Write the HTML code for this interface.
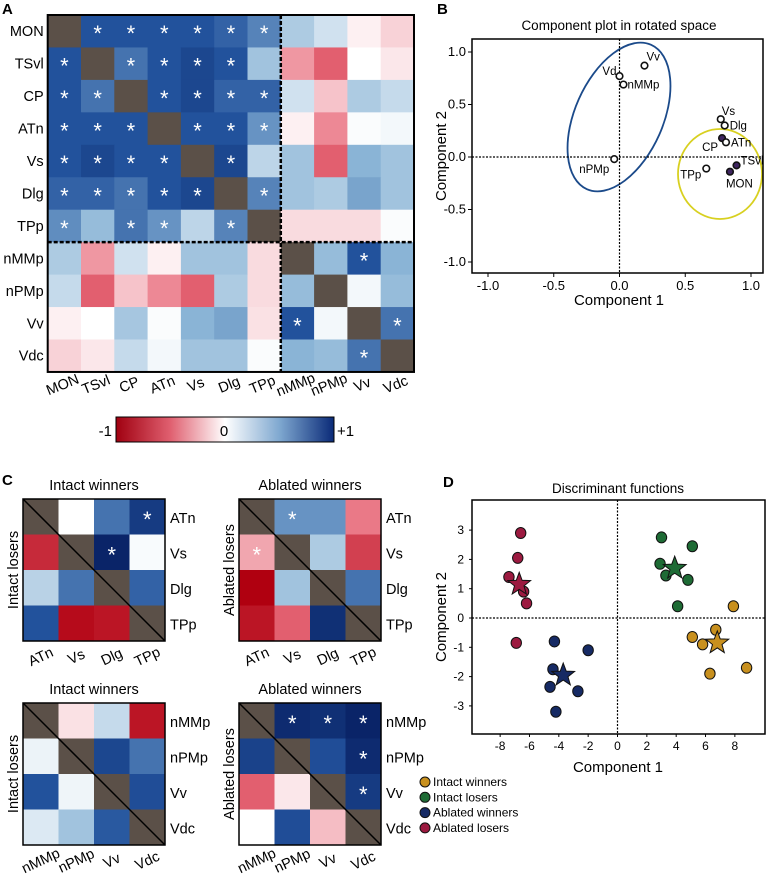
<!DOCTYPE html>
<html><head><meta charset="utf-8"><style>
body{margin:0;background:#fff;}
svg{display:block;font-family:"Liberation Sans",Arial,sans-serif;}
</style></head><body>
<svg id="fig" width="768" height="878" viewBox="0 0 768 878" xmlns="http://www.w3.org/2000/svg">
<defs>
<linearGradient id="cbar" x1="0" x2="1" y1="0" y2="0">
<stop offset="0" stop-color="#a00010"/><stop offset="0.25" stop-color="#e06070"/><stop offset="0.5" stop-color="#ffffff"/><stop offset="0.75" stop-color="#7fa8d0"/><stop offset="1" stop-color="#0a2a78"/>
</linearGradient>
</defs>
<text x="2" y="14" font-size="15" font-weight="bold">A</text>
<text x="437" y="14" font-size="15" font-weight="bold">B</text>
<text x="2" y="485" font-size="15" font-weight="bold">C</text>
<text x="443" y="487" font-size="15" font-weight="bold">D</text>
<g id="gA"></g>
<g id="cb">
<rect x="116" y="417" width="218" height="25" fill="url(#cbar)" stroke="#000" stroke-width="1"/>
<text x="112" y="436" font-size="15" text-anchor="end">-1</text>
<text x="224" y="436" font-size="15" text-anchor="middle">0</text>
<text x="337" y="436" font-size="15">+1</text>
</g>
<g id="gB"></g>
<g id="gC"></g>
<g id="gD"></g>
</svg>
<script>
const NS="http://www.w3.org/2000/svg";
// ---------- Panel A data ----------
const aLabels=["MON","TSvl","CP","ATn","Vs","Dlg","TPp","nMMp","nPMp","Vv","Vdc"];
const aValues=[
[null,.8,.8,.8,.8,.75,.65,.35,.2,-.05,-.15],
[.8,null,.7,.8,.85,.8,.4,-.35,-.55,0,-.08],
[.8,.7,null,.8,.85,.75,.75,.2,-.2,.35,.25],
[.8,.8,.8,null,.8,.8,.6,-.05,-.4,.02,.05],
[.8,.85,.8,.8,null,.85,.28,.4,-.55,.5,.4],
[.75,.75,.7,.8,.85,null,.65,.4,.35,.55,.4],
[.62,.45,.7,.6,.28,.65,null,-.12,-.12,-.12,.02],
[.35,-.35,.2,-.05,.4,.4,-.12,null,.45,.8,.5],
[.25,-.55,-.2,-.4,-.55,.35,-.12,.45,null,.05,.45],
[-.05,0,.38,.02,.5,.55,-.1,.8,.05,null,.7],
[-.15,-.08,.25,.05,.4,.4,.02,.5,.45,.7,null]];
const aStars=[[1,2,3,4,5,6],[0,2,3,4,5],[0,1,3,4,5,6],[0,1,2,4,5,6],[0,1,2,3,5],[0,1,2,3,4,6],[0,2,3,5],[9],[],[7,10],[9]];
// ---------- Panel B data ----------
const bNames=["Vv","Vdc","nMMp","nPMp","Vs","Dlg","CP","ATn","TSvl","MON","TPp"];
const bC1=[0.19,0.0,0.03,-0.04,0.77,0.80,0.78,0.81,0.89,0.84,0.66];
const bC2=[0.87,0.77,0.69,-0.02,0.36,0.30,0.18,0.14,-0.08,-0.14,-0.11];
const bFilled=[0,0,0,0,0,0,1,0,1,1,0];
const bTicks=[-1,-0.5,0,0.5,1];
const bTickLabels=["-1.0","-0.5","0.0","0.5","1.0"];
// ---------- Panel C data ----------
const cTitles=["Intact winners","Ablated winners","Intact winners","Ablated winners"];
const cYTitles=["Intact losers","Ablated losers","Intact losers","Ablated losers"];
const cLabelsTop=["ATn","Vs","Dlg","TPp"];
const cLabelsBot=["nMMp","nPMp","Vv","Vdc"];
const cVal1=[[null,0,.7,.9],[-.8,null,1,.03],[.3,.7,null,.75],[.8,-.95,-.9,null]];
const cVal2=[[null,.6,.6,-.45],[-.3,null,.35,-.7],[-1,.4,null,.7],[-.9,-.55,.95,null]];
const cVal3=[[null,-.1,.25,-.9],[.08,null,.85,.7],[.8,.07,null,.82],[.15,.4,.78,null]];
const cVal4=[[null,.97,.95,1],[.87,null,.82,.97],[-.55,-.08,null,.9],[0,.82,-.22,null]];
const cStar1=[[0,3],[1,2]], cStar2=[[0,1],[1,0]], cStar3=[], cStar4=[[0,1],[0,2],[0,3],[1,3],[2,3]];
// ---------- Panel D data ----------
const dGroups=["Intact winners","Intact losers","Ablated winners","Ablated losers"];
const dGoldX=[7.9,5.1,6.7,5.8,6.3,8.8], dGoldY=[0.4,-0.65,-0.4,-0.9,-1.9,-1.7];
const dGreenX=[3.0,5.1,2.9,3.3,4.8,4.1], dGreenY=[2.75,2.45,1.85,1.45,1.3,0.4];
const dNavyX=[-4.3,-2.0,-4.4,-4.6,-2.7,-4.2], dNavyY=[-0.8,-1.1,-1.75,-2.35,-2.5,-3.2];
const dRedX=[-6.6,-6.8,-7.4,-6.4,-6.2,-6.9], dRedY=[2.9,2.05,1.4,0.9,0.5,-0.85];
const dStarX=[6.8,3.9,-3.7,-6.7], dStarY=[-0.85,1.7,-1.95,1.15];
const dXTicks=[-8,-6,-4,-2,0,2,4,6,8], dYTicks=[-3,-2,-1,0,1,2,3];

function mk(tag,attrs,parent,txt){const e=document.createElementNS(NS,tag);for(const k in attrs)e.setAttribute(k,attrs[k]);if(txt!==undefined)e.textContent=txt;parent.appendChild(e);return e;}
function hex(c){return [parseInt(c.substr(1,2),16),parseInt(c.substr(3,2),16),parseInt(c.substr(5,2),16)];}
const stops=[[-1,"#b00010"],[-0.5,"#e86a7a"],[0,"#ffffff"],[0.5,"#8ab4d6"],[0.8,"#22529c"],[1,"#0a2468"]];
function color(v){if(v===null)return "#5b5048";for(let i=0;i<stops.length-1;i++){const[a,ca]=stops[i],[b,cb]=stops[i+1];if(v>=a&&v<=b){const t=(v-a)/(b-a);const A=hex(ca),B=hex(cb);return "rgb("+A.map((x,j)=>Math.round(x+(B[j]-x)*t)).join(",")+")";}}return v<0?stops[0][1]:stops[stops.length-1][1];}

// ---------- Panel A ----------
(function(){
const g=document.getElementById("gA");
const x0=47.7,y0=15,cw=33.3,ch=32.45,n=aLabels.length;
for(let r=0;r<n;r++)for(let c=0;c<n;c++){
 const el=mk("rect",{x:x0+c*cw,y:y0+r*ch,width:cw+0.5,height:ch+0.5,fill:color(aValues[r][c])},g);
 
 
 if(aStars[r].includes(c)){const s=mk("text",{x:x0+c*cw+cw/2,y:y0+r*ch+ch/2+10,"font-size":22,fill:"#fff","text-anchor":"middle"},g,"*");
 
 }
}
const br=mk("rect",{x:x0,y:y0,width:cw*n,height:ch*n,fill:"none",stroke:"#000","stroke-width":2},g);


const dv=mk("line",{x1:x0+7*cw,y1:y0,x2:x0+7*cw,y2:y0+n*ch,stroke:"#000","stroke-width":2.5,"stroke-dasharray":"4,2"},g);


const dh=mk("line",{x1:x0,y1:y0+7*ch,x2:x0+n*cw,y2:y0+7*ch,stroke:"#000","stroke-width":2.5,"stroke-dasharray":"4,2"},g);


for(let i=0;i<n;i++){
 const t=mk("text",{x:x0-4,y:y0+i*ch+ch/2+5,"font-size":14.5,"text-anchor":"end"},g,aLabels[i]);
 
 
 const cx=x0+i*cw+cw/2,cy=389;
 const u=mk("text",{x:cx,y:cy,"font-size":14.5,"text-anchor":"middle",transform:`rotate(-22 ${cx} ${cy})`},g,aLabels[i]);
 
 
}
})();

// ---------- Panel B ----------
(function(){
const g=document.getElementById("gB");
const L=472,R=763,T=39,B=273;
const sx=v=>619.5+v*131.5, sy=v=>157-v*105;
mk("text",{x:619,y:30,"font-size":13.5,"text-anchor":"middle"},g,"Component plot in rotated space");
const e1=mk("ellipse",{cx:619,cy:117,rx:44,ry:79,transform:"rotate(24 619 117)",fill:"none",stroke:"#1b4a8a","stroke-width":1.8},g);


const e2=mk("ellipse",{cx:720,cy:174,rx:42,ry:45,fill:"none",stroke:"#d8d020","stroke-width":1.8},g);


mk("line",{x1:sx(0),y1:T,x2:sx(0),y2:B,stroke:"#000","stroke-width":1.2,"stroke-dasharray":"2,1.5"},g);
mk("line",{x1:L,y1:sy(0),x2:R,y2:sy(0),stroke:"#000","stroke-width":1.2,"stroke-dasharray":"2,1.5"},g);
mk("rect",{x:L,y:T,width:R-L,height:B-T,fill:"none",stroke:"#000","stroke-width":1.5},g);
bTicks.forEach((v,i)=>{
 mk("line",{x1:sx(v),y1:B,x2:sx(v),y2:B+4,stroke:"#000"},g);
 const t=mk("text",{x:sx(v),y:B+17,"font-size":13,"text-anchor":"middle"},g,bTickLabels[i]);
 
 
 mk("line",{x1:L-4,y1:sy(v),x2:L,y2:sy(v),stroke:"#000"},g);
 const u=mk("text",{x:L-6,y:sy(v)+4,"font-size":13,"text-anchor":"end"},g,bTickLabels[i]);
 
 
});
mk("text",{x:619,y:305,"font-size":15,"text-anchor":"middle"},g,"Component 1");
mk("text",{x:446,y:156,"font-size":15,"text-anchor":"middle",transform:"rotate(-90 446 156)"},g,"Component 2");
const off={Vv:[2,-5,"start"],Vdc:[-3,-1,"end"],nMMp:[4,4,"start"],nPMp:[-5,14,"end"],Vs:[1,-4,"start"],Dlg:[5,4,"start"],CP:[-4,13,"end"],ATn:[5,4,"start"],TSvl:[4,-1,"start"],MON:[-4,16,"start"],TPp:[-5,10,"end"]};
bNames.forEach((nm,i)=>{
 const x=sx(bC1[i]),y=sy(bC2[i]);
 const c=mk("circle",{cx:x,cy:y,r:3.3,fill:bFilled[i]?"#3e2560":"#fff",stroke:"#111","stroke-width":1.6},g);
 
 
 const o=off[nm];
 const lbl=nm==="Vdc"?"Vd":nm;
 const t=mk("text",{x:x+o[0],y:y+o[1],"font-size":11.5,"text-anchor":o[2]},g,lbl);
 
 
});
})();

// ---------- Panel C ----------
(function(){
const g=document.getElementById("gC");
const panels=[[23,499,cVal1,cStar1,cLabelsTop],[239,499,cVal2,cStar2,cLabelsTop],[23,703,cVal3,cStar3,cLabelsBot],[239,703,cVal4,cStar4,cLabelsBot]];
panels.forEach((p,k)=>{
 const[x0,y0,vals,stars,labs]=p;const cs=35.5,sz=cs*4;
 for(let r=0;r<4;r++)for(let c=0;c<4;c++){
  const el=mk("rect",{x:x0+c*cs,y:y0+r*cs,width:cs+0.5,height:cs+0.5,fill:color(vals[r][c])},g);
  
  
 }
 stars.forEach(s=>{const t=mk("text",{x:x0+s[1]*cs+cs/2,y:y0+s[0]*cs+cs/2+10,"font-size":22,fill:"#fff","text-anchor":"middle"},g,"*");
  
  });
 mk("line",{x1:x0,y1:y0,x2:x0+sz,y2:y0+sz,stroke:"#000","stroke-width":1.5},g);
 mk("rect",{x:x0,y:y0,width:sz,height:sz,fill:"none",stroke:"#000","stroke-width":1.5},g);
 const tt=mk("text",{x:x0+sz/2,y:y0-9,"font-size":14.5,"text-anchor":"middle"},g,cTitles[k]);
 
 
 const yx=x0-5,yy=y0+sz/2;
 const yt=mk("text",{x:yx,y:yy,"font-size":14.5,"text-anchor":"middle",transform:`rotate(-90 ${yx} ${yy})`},g,cYTitles[k]);
 
 
 labs.forEach((l,i)=>{
  const rl=mk("text",{x:x0+sz+5,y:y0+i*cs+cs/2+6,"font-size":14.5},g,l);
  
  
  const cx=x0+i*cs+cs/2+2,cy=y0+sz+20;
  const cl=mk("text",{x:cx,y:cy,"font-size":14.5,"text-anchor":"middle",transform:`rotate(-25 ${cx} ${cy})`},g,l);
  
  
 });
});
})();

// ---------- Panel D ----------
(function(){
const g=document.getElementById("gD");
const L=472,R=765,T=500,B=734;
const sx=v=>617.5+v*14.67, sy=v=>618-v*29.3;
mk("text",{x:618,y:493,"font-size":13.5,"text-anchor":"middle"},g,"Discriminant functions");
mk("line",{x1:sx(0),y1:T,x2:sx(0),y2:B,stroke:"#000","stroke-width":1.2,"stroke-dasharray":"2,1.5"},g);
mk("line",{x1:L,y1:sy(0),x2:R,y2:sy(0),stroke:"#000","stroke-width":1.2,"stroke-dasharray":"2,1.5"},g);
mk("rect",{x:L,y:T,width:R-L,height:B-T,fill:"none",stroke:"#000","stroke-width":1.5},g);
dXTicks.forEach(v=>{mk("line",{x1:sx(v),y1:B,x2:sx(v),y2:B+3,stroke:"#000"},g);
 const t=mk("text",{x:sx(v),y:B+16,"font-size":12,"text-anchor":"middle"},g,String(v));
 
 });
dYTicks.forEach(v=>{mk("line",{x1:L-3,y1:sy(v),x2:L,y2:sy(v),stroke:"#000"},g);
 const t=mk("text",{x:L-8,y:sy(v)+4,"font-size":12,"text-anchor":"end"},g,String(v));
 
 });
mk("text",{x:618,y:772,"font-size":15,"text-anchor":"middle"},g,"Component 1");
mk("text",{x:446,y:617,"font-size":15,"text-anchor":"middle",transform:"rotate(-90 446 617)"},g,"Component 2");
const cols=["#c8901e","#1e6b35","#162a64","#9c1a40"];
const xs=[dGoldX,dGreenX,dNavyX,dRedX], ys=[dGoldY,dGreenY,dNavyY,dRedY];
xs.forEach((arr,k)=>arr.forEach((v,i)=>{
 const c=mk("ellipse",{cx:sx(v),cy:sy(ys[k][i]),rx:5.2,ry:5.5,fill:cols[k],stroke:"#111","stroke-width":1},g);
 
 
}));
function starPath(cx,cy,R,r){let d="";for(let i=0;i<10;i++){const a=-Math.PI/2+i*Math.PI/5,rr=i%2?r:R;d+=(i?"L":"M")+(cx+rr*Math.cos(a)).toFixed(1)+","+(cy+rr*Math.sin(a)).toFixed(1);}return d+"Z";}
dStarX.forEach((v,k)=>{
 const s=mk("path",{d:starPath(sx(v),sy(dStarY[k]),12,5),fill:cols[k],stroke:"#111","stroke-width":1},g);
 
 
});
dGroups.forEach((nm,k)=>{
 const y=782+k*15.3;
 const c=mk("circle",{cx:425,cy:y,r:5,fill:cols[k],stroke:"#111","stroke-width":1},g);
 
 
 const t=mk("text",{x:433,y:y+4,"font-size":12},g,nm);
 
 
});
})();
</script>
</body></html>
